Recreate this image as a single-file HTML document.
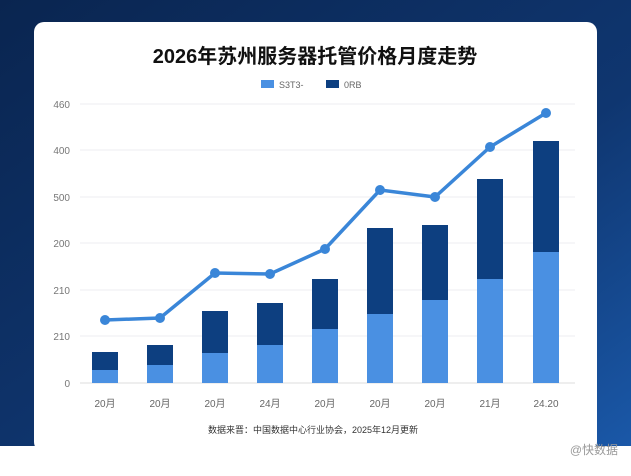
<!DOCTYPE html>
<html><head><meta charset="utf-8"><style>
body{margin:0;width:631px;height:471px;overflow:hidden;background:#fff;font-family:"Liberation Sans","Noto Sans CJK SC",sans-serif}
</style></head><body>
<svg width="631" height="471" xmlns="http://www.w3.org/2000/svg">
<defs><linearGradient id="bg" x1="0" y1="0" x2="1" y2="1"><stop offset="0" stop-color="#0a2550"/><stop offset="0.6" stop-color="#0f3670"/><stop offset="1" stop-color="#1a58a8"/></linearGradient></defs>
<rect width="631" height="446" fill="url(#bg)"/>
<rect x="0" y="446" width="631" height="25" fill="#fff"/>
<rect x="34" y="22" width="563" height="430" rx="10" fill="#fff"/>
<text x="315" y="63" text-anchor="middle" font-size="20" font-weight="bold" fill="#111">2026年苏州服务器托管价格月度走势</text>
<rect x="261" y="80" width="13" height="8" fill="#4a90e2"/><text x="279" y="88" font-size="9" fill="#666">S3T3-</text>
<rect x="326" y="80" width="13" height="8" fill="#0d3f80"/><text x="344" y="88" font-size="9" fill="#666">0RB</text>
<g font-size="10" fill="#777" text-anchor="end">
<text x="70" y="108">460</text><text x="70" y="154">400</text><text x="70" y="201">500</text><text x="70" y="247">200</text><text x="70" y="294">210</text><text x="70" y="340">210</text><text x="70" y="387">0</text></g>
<g stroke="#eceef2" stroke-width="1">
<line x1="80" y1="104" x2="575" y2="104"/><line x1="80" y1="150" x2="575" y2="150"/><line x1="80" y1="197" x2="575" y2="197"/><line x1="80" y1="243" x2="575" y2="243"/><line x1="80" y1="290" x2="575" y2="290"/><line x1="80" y1="336" x2="575" y2="336"/><line x1="80" y1="383" x2="575" y2="383" stroke="#ddd"/></g>
<g fill="#0d3f80">
<rect x="92" y="352" width="26" height="31"/><rect x="147" y="345" width="26" height="38"/><rect x="202" y="311" width="26" height="72"/><rect x="257" y="303" width="26" height="80"/><rect x="312" y="279" width="26" height="104"/><rect x="367" y="228" width="26" height="155"/><rect x="422" y="225" width="26" height="158"/><rect x="477" y="179" width="26" height="204"/><rect x="533" y="141" width="26" height="242"/></g>
<g fill="#4a90e2">
<rect x="92" y="370" width="26" height="13"/><rect x="147" y="365" width="26" height="18"/><rect x="202" y="353" width="26" height="30"/><rect x="257" y="345" width="26" height="38"/><rect x="312" y="329" width="26" height="54"/><rect x="367" y="314" width="26" height="69"/><rect x="422" y="300" width="26" height="83"/><rect x="477" y="279" width="26" height="104"/><rect x="533" y="252" width="26" height="131"/></g>
<polyline points="105,320 160,318 215,273 270,274 325,249 380,190 435,197 490,147 546,113" fill="none" stroke="#3a86d8" stroke-width="3.5"/>
<g fill="#3a86d8"><circle cx="105" cy="320" r="5"/><circle cx="160" cy="318" r="5"/><circle cx="215" cy="273" r="5"/><circle cx="270" cy="274" r="5"/><circle cx="325" cy="249" r="5"/><circle cx="380" cy="190" r="5"/><circle cx="435" cy="197" r="5"/><circle cx="490" cy="147" r="5"/><circle cx="546" cy="113" r="5"/></g>
<g font-size="10" fill="#666" text-anchor="middle">
<text x="105" y="407">20月</text><text x="160" y="407">20月</text><text x="215" y="407">20月</text><text x="270" y="407">24月</text><text x="325" y="407">20月</text><text x="380" y="407">20月</text><text x="435" y="407">20月</text><text x="490" y="407">21月</text><text x="546" y="407">24.20</text></g>
<text x="313" y="433" text-anchor="middle" font-size="9" fill="#333">数据来晋：中国数据中心行业协会，2025年12月更新</text>
<text x="618" y="454" text-anchor="end" font-size="12" fill="#999">@快数据</text>
</svg>
</body></html>
